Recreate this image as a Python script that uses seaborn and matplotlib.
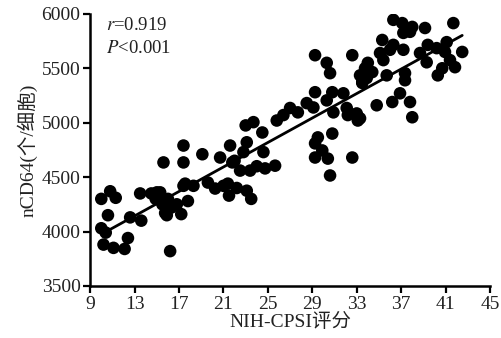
import numpy as np
import pandas as pd
import seaborn as sns
import matplotlib.pyplot as plt

# NIH-CPSI score vs nCD64
nih_cpsi = [
    10.0, 10.8, 11.3, 10.6, 10.0, 10.4, 10.2, 11.1, 12.1, 12.4,
    12.6, 13.6, 13.5, 14.5, 15.3, 16.2, 15.75, 17.2, 17.55, 17.8,
    15.6, 17.4, 17.4, 19.1, 20.7, 21.6, 21.8, 23.0, 23.7, 24.5,
    23.1, 22.8, 24.6, 24.75, 22.5, 23.4, 21.4, 22.2, 23.1, 17.4,
    18.3, 19.6, 20.25, 15.0, 15.5, 16.0, 16.3, 16.8, 15.9, 14.9,
    21.0, 21.5, 23.5, 22.0, 24.0,
    29.25, 32.6, 30.3, 30.6, 33.3, 33.5, 29.25, 30.8, 31.8, 30.3,
    28.5, 29.1, 27.0, 27.7, 26.4, 25.8, 30.9, 32.1, 32.2, 33.0,
    33.1, 29.5, 30.8, 29.25, 29.9, 29.25, 30.4, 32.6, 30.6, 25.65,
    36.3, 37.1, 38.0, 37.2, 37.8, 39.15, 41.7, 35.3, 36.3, 36.0,
    37.2, 35.1, 35.4, 34.0, 33.75, 34.4, 33.9, 33.5, 38.7, 39.4,
    40.2, 40.95, 41.1, 42.5, 39.3, 41.4, 41.85, 40.7, 40.3, 35.7,
    37.35, 37.35, 36.9, 36.2, 37.8, 34.8, 38.0, 33.3,
]
ncd64 = [
    4300, 4370, 4310, 4150, 4030, 3990, 3880, 3850, 3840, 3940,
    4130, 4100, 4350, 4350, 4360, 3820, 4170, 4160, 4440, 4280,
    4635, 4790, 4635, 4710, 4680, 4790, 4635, 4975, 5005, 4910,
    4820, 4730, 4730, 4580, 4560, 4560, 4440, 4400, 4375, 4420,
    4420, 4450, 4395, 4360, 4250, 4300, 4220, 4250, 4150, 4300,
    4420, 4330, 4300, 4650, 4600,
    5620, 5620, 5550, 5455, 5435, 5365, 5280, 5280, 5270, 5205,
    5180, 5140, 5135, 5095, 5070, 5020, 5095, 5135, 5070, 5085,
    5020, 4865, 4900, 4810, 4745, 4680, 4670, 4680, 4515, 4605,
    5945, 5915, 5880, 5825, 5835, 5870, 5915, 5760, 5715, 5670,
    5670, 5640, 5575, 5550, 5500, 5465, 5410, 5375, 5640, 5715,
    5685, 5650, 5740, 5650, 5555, 5575, 5510, 5500, 5435, 5435,
    5455, 5390, 5270, 5190, 5190, 5160, 5050, 5040,
]

df = pd.DataFrame({"x": nih_cpsi, "y": ncd64})

sns.set_style("ticks")
plt.rcParams['font.family'] = ['Liberation Serif', 'Noto Sans CJK SC']
plt.rcParams['mathtext.fontset'] = 'stix'

fig = plt.figure(figsize=(5.01, 3.38), dpi=100)
ax = fig.add_axes([0.18, 0.154, 0.798, 0.805])

sns.regplot(data=df, x="x", y="y", ax=ax, ci=None, truncate=True,
            scatter_kws=dict(s=82, color="black", edgecolor="none", alpha=1),
            line_kws=dict(color="black", lw=2))

ax.set_xlim(9, 45)
ax.set_ylim(3500, 6000)
ax.set_xticks(np.arange(9, 46, 4))
ax.set_yticks(np.arange(3500, 6001, 500))
ax.set_xlabel("NIH-CPSI评分", fontsize=14, labelpad=0, color="#222222")
ax.set_ylabel("nCD64(个/细胞)", fontsize=14, labelpad=3, color="#222222")
ax.tick_params(labelsize=14, width=1.6, length=5, direction="out",
               colors="black", labelcolor="#222222", pad=2)
for s in ["left", "bottom"]:
    ax.spines[s].set_linewidth(1.8)
    ax.spines[s].set_color("black")
sns.despine(ax=ax)

ax.text(0.04, 0.99, "$r$=0.919", transform=ax.transAxes, va="top",
        fontsize=13.5, color="#222222")
ax.text(0.04, 0.905, "$P$<0.001", transform=ax.transAxes, va="top",
        fontsize=13.5, color="#222222")

fig.savefig("out.png", dpi=100)
